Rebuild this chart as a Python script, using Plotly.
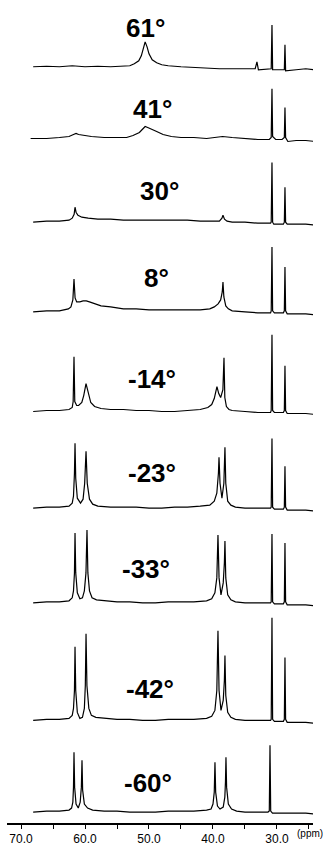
import plotly.graph_objects as go

# ---------------- data ----------------
temperatures = ["61°", "41°", "30°", "8°", "-14°", "-23°", "-33°", "-42°", "-60°"]

ppm_61 = [68.1, 66.0, 64.0, 62.0, 60.0, 58.0, 56.0, 54.0, 53.0, 52.3, 51.6, 51.2, 50.9, 50.6, 50.3, 50.0, 49.5,
          48.8, 48.0, 47.0, 45.0, 42.0, 39.0, 36.0, 33.4, 33.13, 32.9, 30.9, 30.78, 30.68, 29.8, 28.85, 28.75,
          28.65, 27.0, 25.5, 24.1]
int_61 = [1, 1.5, 1, 2, 1, 1.5, 1, 2, 2, 4, 7, 12, 19, 26, 21, 14, 8,
          5, 3, 2, 1, 0, -1, -1, -1, 6, -2, -1, 43, -2, -2, -2, 23,
          -3, -2, -1, -2]

ppm_41 = [68.5, 66, 64, 62.5, 61.8, 61.4, 61.0, 60.2, 59, 57, 55, 53.5, 52.5, 51.5, 50.9, 50.6, 50.2, 49.6,
          48.8, 47.8, 46.5, 45, 43, 41, 39.5, 38.5, 37, 35, 33, 31.2, 30.9, 30.78, 30.68, 30.2, 29.2, 28.85,
          28.75, 28.65, 28.3, 27, 25.5, 24]
int_41 = [1, 1, 2, 3, 5, 6, 5, 4, 3, 2, 2, 2, 4, 7, 11, 13, 12, 10,
          8, 5, 3, 2, 2, 1, 2, 3, 2, 1, 0, 0, 2, 51, 3, 0, 0, 2,
          32, 2, -2, -1, -1, -2]

ppm_30 = [68.1, 66, 64, 62.5, 62.0, 61.7, 61.56, 61.4, 61.1, 60.5, 59.5, 58, 56, 54, 52, 50, 48, 46, 44, 42,
          40, 39.0, 38.6, 38.44, 38.2, 37.8, 37, 35, 33, 31.0, 30.9, 30.78, 30.68, 30.5, 29.0, 28.85, 28.75,
          28.65, 28.4, 27, 25.5, 24]
int_30 = [0, 1, 1, 2, 4, 8, 15, 10, 7, 5, 4, 3, 3, 2, 2, 2, 2, 2, 2, 1,
          1, 1, 4, 7, 3, 1, 0, 0, -1, -1, 0, 60, 0, -2, -2, 0, 35,
          0, -2, -2, -2, -3]

ppm_8 = [68.1, 66, 64, 62.6, 62.2, 61.9, 61.72, 61.55, 61.3, 60.8, 60.3, 59.8, 59.3, 58.5, 57.5, 56, 54, 52,
         50, 48, 46, 44, 42, 40.5, 39.8, 39.2, 38.8, 38.55, 38.44, 38.3, 38.0, 37.6, 37, 35, 33, 31.0, 30.9,
         30.78, 30.68, 30.4, 29.0, 28.85, 28.75, 28.65, 28.4, 27, 25.5, 24]
int_8 = [0, 1, 1, 3, 5, 12, 33, 14, 10, 10, 11, 11, 10, 8, 6, 5, 3, 3,
         2, 2, 2, 2, 2, 3, 5, 8, 12, 20, 30, 15, 6, 3, 1, 0, -1, -1, 1,
         65, 1, -1, -1, 1, 45, 1, -2, -2, -2, -3]

ppm_m14 = [68.1, 66, 64, 62.5, 62.0, 61.85, 61.72, 61.6, 61.3, 61.0, 60.5, 60.2, 59.84, 59.5, 59.1, 58.5,
           57.5, 56, 54, 52, 50, 48, 46, 44, 42, 40.8, 40.2, 39.8, 39.5, 39.38, 39.1, 38.8, 38.45, 38.28,
           38.15, 37.9, 37.5, 37, 35, 33, 31.0, 30.9, 30.78, 30.68, 30.4, 29.0, 28.85, 28.75, 28.65, 28.4,
           27, 25.5, 24]
int_m14 = [0, 1, 1, 2, 4, 10, 55, 10, 6, 6, 9, 16, 28, 18, 9, 5,
           3, 2, 2, 1, 1, 0, 0, 1, 2, 4, 7, 13, 22, 25, 18, 14, 22, 54,
           14, 5, 2, 1, 0, -1, -1, 1, 77, 1, -1, -1, 1, 46, 1, -2,
           -2, -2, -3]

ppm_m23 = [68.1, 66, 64, 62.5, 62.0, 61.8, 61.65, 61.56, 61.45, 61.2, 60.7, 60.3, 60.05, 59.84, 59.65, 59.3,
           58.8, 58, 56, 54, 52, 50, 48, 46, 44, 42, 40.5, 39.8, 39.4, 39.15, 39.06, 38.9, 38.6, 38.3, 38.13,
           38.0, 37.7, 37.2, 36.5, 35, 33, 31.0, 30.9, 30.78, 30.68, 30.4, 29.0, 28.85, 28.75, 28.65, 28.4,
           27, 25.5, 24]
int_m23 = [0, 1, 1, 2, 5, 12, 35, 65, 30, 10, 5, 9, 25, 57, 25, 9,
           4, 2, 1, 1, 1, 0, 0, 1, 1, 2, 3, 7, 15, 35, 51, 25, 10, 25, 61,
           25, 7, 3, 1, 0, 0, 0, 1, 70, 1, -1, -1, 1, 42, 1, -2,
           -2, -2, -3]

ppm_m33 = [68.1, 66, 64, 62.5, 62.0, 61.8, 61.65, 61.56, 61.45, 61.2, 60.8, 60.4, 60.1, 59.85, 59.69, 59.55,
           59.3, 58.9, 58.2, 57, 55, 53, 51, 49, 47, 45, 43, 41, 40.2, 39.7, 39.4, 39.22, 39.05, 38.75, 38.4,
           38.22, 38.13, 38.0, 37.7, 37.2, 36.5, 35, 33, 31.0, 30.9, 30.78, 30.68, 30.4, 29.0, 28.85, 28.75,
           28.65, 28.4, 27, 25.5, 24]
int_m33 = [0, 1, 1, 2, 5, 12, 30, 70, 30, 10, 4, 5, 12, 30, 73, 30,
           12, 5, 3, 2, 1, 1, 0, 0, 1, 1, 1, 2, 4, 10, 25, 68, 25, 8, 20,
           40, 62, 25, 8, 3, 1, 0, 0, 0, 1, 69, 1, -1, -1, 1, 60,
           1, -2, -2, -2, -3]

ppm_m42 = [68.1, 66, 64, 62.5, 62.0, 61.8, 61.65, 61.56, 61.45, 61.2, 60.8, 60.4, 60.1, 59.95, 59.84, 59.7,
           59.4, 59.0, 58.3, 57, 55, 53, 51, 49, 47, 45, 43, 41, 40.2, 39.7, 39.4, 39.22, 39.05, 38.75, 38.4,
           38.22, 38.13, 38.0, 37.7, 37.2, 36.5, 35, 33, 31.0, 30.9, 30.78, 30.68, 30.4, 29.0, 28.85, 28.75,
           28.65, 28.4, 27, 25.5, 24]
int_m42 = [0, 1, 1, 2, 5, 12, 30, 74, 30, 8, 2, 3, 12, 35, 87, 35,
           12, 5, 3, 2, 1, 1, 0, 0, 1, 1, 1, 2, 4, 10, 30, 90, 30, 10, 20,
           40, 65, 25, 8, 3, 1, 0, 0, 0, 1, 103, 1, -1, -1, 1, 63,
           1, -2, -2, -2, -3]

ppm_m60 = [68.1, 66, 64, 62.5, 62.1, 61.9, 61.8, 61.72, 61.62, 61.4, 61.05, 60.75, 60.57, 60.47, 60.37, 60.1,
           59.6, 58.8, 57, 55, 53, 51, 49, 47, 45, 43, 41, 40.3, 40.0, 39.8, 39.69, 39.58, 39.3, 38.9, 38.4,
           38.15, 38.05, 37.97, 37.87, 37.6, 37.1, 36.3, 35, 33, 31.4, 31.2, 31.09, 30.98, 30.7, 29, 27, 25.5, 24]
int_m60 = [0, 1, 1, 2, 4, 10, 25, 60, 25, 8, 4, 10, 25, 52, 22, 8,
           4, 2, 1, 1, 0, 0, 0, 1, 1, 1, 2, 3, 8, 20, 50, 20, 6, 3, 5,
           15, 30, 55, 25, 8, 3, 1, 0, 0, 0, 1, 67, 1, -1, -1, -1, -1, -2]

spectra_ppm = [ppm_61, ppm_41, ppm_30, ppm_8, ppm_m14, ppm_m23, ppm_m33, ppm_m42, ppm_m60]
spectra_int = [int_61, int_41, int_30, int_8, int_m14, int_m23, int_m33, int_m42, int_m60]

tick_vals = [70, 60, 50, 40, 30]
tick_text = ["70.0", "60.0", "50.0", "40.0", "30.0"]
axis_unit = "(ppm)"

# ---------------- layout constants (positions, not data) ----------------
W, H = 323, 846
PLOT_H = 826
baseline_px = [68, 140, 223, 313, 413, 510, 605, 723, 815]
label_pos = [(50.6, 28), (49.5, 109), (48.4, 192), (48.9, 279), (49.5, 380),
             (49.5, 475), (50.5, 571), (49.8, 692), (50.2, 786)]

fig = go.Figure()
for ppm, inten, b in zip(spectra_ppm, spectra_int, baseline_px):
    off = PLOT_H - b
    fig.add_trace(go.Scatter(x=ppm, y=[off + v for v in inten], mode="lines",
                             line=dict(color="black", width=1.2), hoverinfo="skip",
                             showlegend=False))

label_font = dict(family="Liberation Sans, Arial", size=26, color="black", weight="bold")
for txt, (xp, yp) in zip(temperatures, label_pos):
    fig.add_annotation(x=xp, y=PLOT_H - yp, xref="x", yref="y", text=txt, showarrow=False,
                       xanchor="center", yanchor="middle", font=label_font)

fig.add_annotation(x=310 / W, y=-11 / PLOT_H, xref="paper", yref="paper", text=axis_unit,
                   showarrow=False, xanchor="center", yanchor="middle",
                   font=dict(family="Liberation Sans", size=10, color="black"))

fig.update_layout(
    width=W, height=H, margin=dict(l=0, r=0, t=0, b=H - PLOT_H),
    paper_bgcolor="white", plot_bgcolor="white",
    xaxis=dict(domain=[7 / W, 313 / W], range=[72.19, 24.37], showgrid=False, zeroline=False,
               showline=True, linecolor="black", linewidth=1.5,
               tickvals=tick_vals, ticktext=tick_text, ticks="outside", ticklen=4,
               tickcolor="black", tickwidth=1.2,
               tickfont=dict(family="Liberation Sans", size=12, color="black"),
               minor=dict(dtick=5, tick0=0, ticks="outside", ticklen=4, tickcolor="black", tickwidth=1.2)),
    yaxis=dict(range=[0, PLOT_H], visible=False, showgrid=False, zeroline=False),
)

fig.write_html("out.html")
